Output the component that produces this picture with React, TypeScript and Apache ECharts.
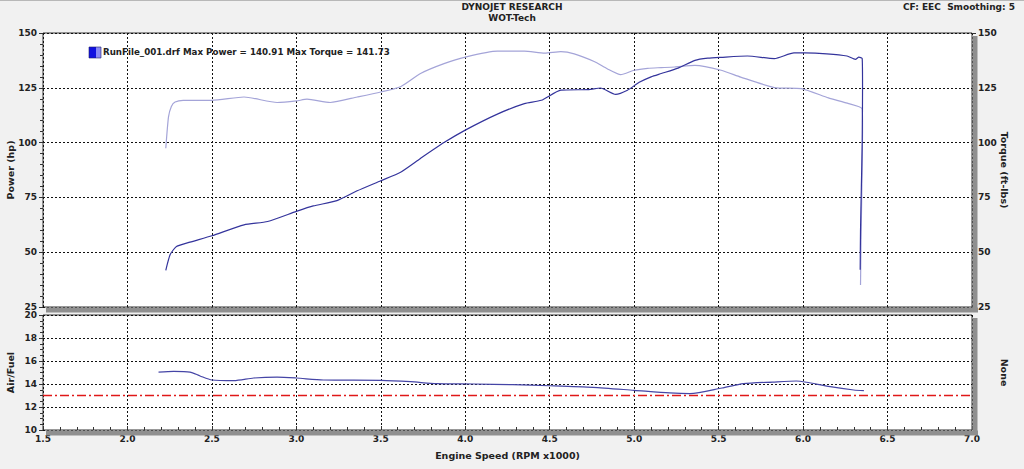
import React, { useEffect, useRef } from "react";
import * as echarts from "echarts";

// ---------- data ----------
const powerRpm = [2.227, 2.253, 2.29, 2.37, 2.5, 2.69, 2.83, 3.0, 3.1, 3.24, 3.36, 3.5, 3.617, 3.735, 3.874, 4.0, 4.19, 4.35, 4.45, 4.566, 4.73, 4.8, 4.89, 4.96, 5.03, 5.1, 5.16, 5.26, 5.36, 5.436, 5.515, 5.67, 5.83, 5.946, 6.01, 6.14, 6.26, 6.31, 6.33, 6.35, 6.352, 6.35, 6.345, 6.34, 6.338];
const powerHp = [41.7, 48.9, 52.6, 54.6, 57.5, 62.5, 64, 68.6, 71.1, 73.5, 78, 82.6, 86.5, 92.8, 100, 105.7, 113, 117.8, 119.3, 123.9, 124.2, 124.9, 122, 123.9, 127.5, 130, 131.5, 134, 137.5, 138.5, 138.9, 139.5, 138.3, 140.9, 140.9, 140.5, 139.5, 138, 139, 138.3, 125, 100, 80, 60, 42];

const torqueRpm = [2.227, 2.243, 2.26, 2.282, 2.33, 2.5, 2.69, 2.886, 3.0, 3.063, 3.2, 3.36, 3.5, 3.617, 3.735, 3.874, 4.0, 4.19, 4.35, 4.47, 4.566, 4.645, 4.763, 4.84, 4.92, 5.0, 5.08, 5.16, 5.24, 5.36, 5.515, 5.63, 5.83, 5.99, 6.15, 6.27, 6.35, 6.352, 6.348, 6.343, 6.34];
const torqueFtLb = [97.4, 111.7, 116.5, 118.5, 119.3, 119.3, 120.8, 118.3, 119, 119.8, 118.3, 120.8, 123.1, 125.5, 131.5, 136, 139, 141.7, 141.7, 140.8, 141.5, 140.5, 137, 133.7, 131, 133, 133.9, 134.2, 134.5, 135.2, 133, 129.9, 125.1, 124.6, 120.4, 117.8, 115.4, 105, 80, 55, 35];

const afrRpm = [2.184, 2.273, 2.37, 2.43, 2.5, 2.63, 2.747, 2.886, 3.0, 3.16, 3.5, 3.676, 3.83, 4.05, 4.28, 4.5, 4.756, 5.0, 5.21, 5.33, 5.52, 5.646, 5.82, 5.96, 6.02, 6.16, 6.3, 6.36];
const afrRatio = [15.04, 15.1, 15.04, 14.7, 14.35, 14.29, 14.52, 14.6, 14.52, 14.35, 14.32, 14.2, 14.03, 14.0, 13.94, 13.85, 13.71, 13.45, 13.22, 13.16, 13.65, 14.03, 14.17, 14.26, 14.15, 13.77, 13.48, 13.42];

const rpmRange = [1.5, 7.0];
const afrTarget = 13;

const titleLines = ["DYNOJET RESEARCH", "WOT-Tech"];
const headerRight = "CF: EEC  Smoothing: 5";
const legendText = "RunFile_001.drf Max Power = 140.91 Max Torque = 141.73";

const FONT = "DejaVu Sans";

const pairs = (xs: number[], ys: number[]) => xs.map((x, i) => [x, ys[i]]);

// plot frames (pixels)
const G_LEFT = 43;
const G_RIGHT = 52;
const G1_TOP = 33;
const G1_H = 274;
const G2_TOP = 315;
const G2_H = 115;

export default function App() {
  const ref = useRef<HTMLDivElement>(null);

  useEffect(() => {
    if (!ref.current) return;
    const chart = echarts.init(ref.current, null, { renderer: "svg" });

    const lbl = { fontFamily: FONT, fontWeight: "bold" as const, fontSize: 9, color: "#222" };
    const nameStyle = { fontFamily: FONT, fontWeight: "bold" as const, fontSize: 9.5, color: "#222" };
    const dashed = { show: true, lineStyle: { color: "#111", type: [2, 2] as any, width: 1 } };
    const gridStyle = {
      show: true,
      backgroundColor: "#ffffff",
      borderColor: "#333",
      borderWidth: 1,
      outerBoundsMode: "none",
      containLabel: false,
    };
    const plotW = 1024 - G_LEFT - G_RIGHT;
    const shadowStrips = (top: number, h: number) => [
      {
        type: "rect",
        z: 1,
        shape: { x: G_LEFT + plotW + 0.5, y: top + 3, width: 5, height: h + 2 },
        style: { fill: "#8f8f8f" },
      },
      {
        type: "rect",
        z: 1,
        shape: { x: G_LEFT + 3, y: top + h + 0.5, width: plotW + 3, height: 5 },
        style: { fill: "#8f8f8f" },
      },
    ];

    chart.setOption({
      animation: false,
      backgroundColor: "#f1f1f1",
      grid: [
        { left: G_LEFT, right: G_RIGHT, top: G1_TOP, height: G1_H, ...gridStyle },
        { left: G_LEFT, right: G_RIGHT, top: G2_TOP, height: G2_H, ...gridStyle },
      ],
      xAxis: [
        {
          type: "value", gridIndex: 0, min: rpmRange[0], max: rpmRange[1], interval: 0.5,
          axisLabel: { show: false }, axisLine: { show: false }, axisTick: { show: false },
          splitLine: dashed,
        },
        {
          type: "value", gridIndex: 1, min: rpmRange[0], max: rpmRange[1], interval: 0.5,
          axisLabel: { ...lbl, formatter: (v: number) => v.toFixed(1), margin: 4 },
          axisLine: { show: false },
          axisTick: { show: true, inside: true, length: 4, lineStyle: { color: "#333" } },
          minorTick: { show: true, splitNumber: 5, length: 3, lineStyle: { color: "#333" } },
          splitLine: dashed,
          name: "Engine Speed (RPM x1000)", nameLocation: "middle", nameGap: 20,
          nameMoveOverlap: false,
          nameTextStyle: nameStyle,
        },
      ],
      yAxis: [
        {
          type: "value", gridIndex: 0, min: 25, max: 150, interval: 25,
          axisLabel: { ...lbl, margin: 6 },
          axisLine: { show: false },
          axisTick: { show: true, length: 4, lineStyle: { color: "#333" } },
          minorTick: { show: true, splitNumber: 5, length: 3, lineStyle: { color: "#333" } },
          splitLine: dashed,
          name: "Power (hp)", nameLocation: "middle", nameGap: 28, nameMoveOverlap: false,
          nameTextStyle: nameStyle,
        },
        {
          type: "value", gridIndex: 0, min: 25, max: 150, interval: 25, position: "right",
          axisLabel: { ...lbl, margin: 6 },
          axisLine: { show: false },
          axisTick: { show: true, length: 4, lineStyle: { color: "#333" } },
          minorTick: { show: true, splitNumber: 5, length: 3, lineStyle: { color: "#333" } },
          splitLine: { show: false },
          name: "Torque (ft-lbs)", nameLocation: "middle", nameGap: 27, nameRotate: -90,
          nameMoveOverlap: false,
          nameTextStyle: nameStyle,
        },
        {
          type: "value", gridIndex: 1, min: 10, max: 20, interval: 2,
          axisLabel: { ...lbl, margin: 6 },
          axisLine: { show: false },
          axisTick: { show: true, length: 4, lineStyle: { color: "#333" } },
          minorTick: { show: true, splitNumber: 4, length: 3, lineStyle: { color: "#333" } },
          splitLine: dashed,
          name: "Air/Fuel", nameLocation: "middle", nameGap: 28, nameMoveOverlap: false,
          nameTextStyle: nameStyle,
        },
        {
          type: "value", gridIndex: 1, min: 10, max: 20, interval: 2, position: "right",
          axisLabel: { show: false }, axisLine: { show: false }, axisTick: { show: false },
          splitLine: { show: false },
          name: "None", nameLocation: "middle", nameGap: 27, nameRotate: -90,
          nameMoveOverlap: false,
          nameTextStyle: nameStyle,
        },
      ],
      graphic: [
        ...shadowStrips(G1_TOP, G1_H),
        ...shadowStrips(G2_TOP, G2_H),
        { type: "line", shape: { x1: 0, y1: 0.5, x2: 1024, y2: 0.5 }, style: { stroke: "#b8b8b8", lineWidth: 1 } },
        { type: "text", x: 512, y: 2, style: { text: titleLines[0], font: `bold 9px "${FONT}"`, fill: "#222", textAlign: "center" } },
        { type: "text", x: 512, y: 13, style: { text: titleLines[1], font: `bold 9px "${FONT}"`, fill: "#222", textAlign: "center" } },
        { type: "text", x: 1015, y: 2, style: { text: headerRight, font: `bold 9px "${FONT}"`, fill: "#222", textAlign: "right" } },
        { type: "rect", shape: { x: 89, y: 47, width: 7, height: 11 }, style: { fill: "#1010e0" } },
        { type: "rect", shape: { x: 96, y: 47, width: 5, height: 11 }, style: { fill: "#8a8af5" } },
        { type: "rect", shape: { x: 89, y: 47, width: 12, height: 11 }, style: { fill: "none", stroke: "#20206a", lineWidth: 0.6 } },
        { type: "text", x: 103, y: 47, style: { text: legendText, font: `bold 8.7px "${FONT}"`, fill: "#222" } },
      ],
      series: [
        {
          type: "line", name: "Torque", xAxisIndex: 0, yAxisIndex: 1, data: pairs(torqueRpm, torqueFtLb),
          showSymbol: false, smooth: 0.2, lineStyle: { color: "#a4a4d8", width: 1.2 }, z: 3,
        },
        {
          type: "line", name: "Power", xAxisIndex: 0, yAxisIndex: 0, data: pairs(powerRpm, powerHp),
          showSymbol: false, smooth: 0.2, lineStyle: { color: "#34349c", width: 1.2 }, z: 4,
        },
        {
          type: "line", name: "AFR target", xAxisIndex: 1, yAxisIndex: 2,
          data: rpmRange.map((r) => [r, afrTarget]),
          showSymbol: false, silent: true,
          lineStyle: { color: "#e01818", type: [9, 3, 2, 3] as any, width: 1.3 }, z: 3,
        },
        {
          type: "line", name: "AFR", xAxisIndex: 1, yAxisIndex: 2, data: pairs(afrRpm, afrRatio),
          showSymbol: false, smooth: 0.25, lineStyle: { color: "#4545a6", width: 1.2 }, z: 4,
        },
      ],
    });

    return () => chart.dispose();
  }, []);

  return (
    <div
      ref={ref}
      style={{ position: "fixed", left: 0, top: 0, width: 1024, height: 469 }}
    />
  );
}
